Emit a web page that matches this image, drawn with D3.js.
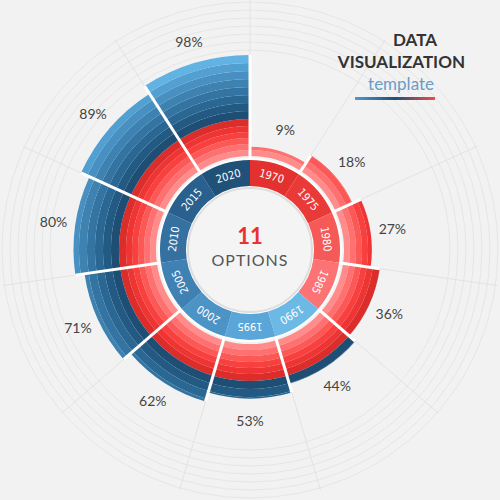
<!DOCTYPE html>
<html><head><meta charset="utf-8">
<script src="https://cdn.jsdelivr.net/npm/d3@7"></script>
<style>body{margin:0;background:#f2f2f2}</style>
</head><body><div id="chart"></div>
<script>
const years = ["1970","1975","1980","1985","1990","1995","2000","2005","2010","2015","2020"];
const values = [9, 18, 27, 36, 44, 53, 62, 71, 80, 89, 98];
const yearColors = ["#e3312f","#ea3a38","#f65a58","#fd7272","#6cb9e6","#5ba6d8","#4c93c6","#3f81b3","#3470a0","#29608d","#1f5179"];
const redBands = ["#ff8b8b","#ff7070","#fb5856","#f8403e","#ee3533","#dd2d2b"];
const blueBands = ["#1e4e74","#235a84","#2b6793","#3474a2","#3d82b1","#4790c1","#529fd1","#62b2e3"];

const width = 500, height = 500, cx = 250, cy = 250;
const svg = d3.select("#chart").append("svg").attr("width", width).attr("height", height);
svg.append("rect").attr("width", width).attr("height", height).attr("fill", "#f2f2f2");
const g = svg.append("g").attr("transform", `translate(${cx},${cy})`);

const ang = d3.scaleBand().domain(years).range([0, 2 * Math.PI]);
const r = d3.scaleLinear().domain([0, 98]).range([94, 195]);
const arc = d3.arc();

// faint grid
d3.range(200, 250, 8).forEach(rr => g.append("circle").attr("r", rr).attr("fill", "none").attr("stroke", "#e6e6e6"));
years.forEach(y => {
  const a = ang(y) - Math.PI / 2;
  g.append("line").attr("x1", 0).attr("y1", 0).attr("x2", 250 * Math.cos(a)).attr("y2", 250 * Math.sin(a)).attr("stroke", "#e3e3e3");
});

// bars built from concentric colour bands
const bandEdges = [94, 100, 106, 112, 118, 124, 131, 139, 147, 155, 163, 171, 179, 187, 196];
const bandColors = redBands.concat(blueBands);
years.forEach((y, i) => {
  const a0 = ang(y), a1 = a0 + ang.bandwidth(), outer = r(values[i]);
  bandColors.forEach((c, k) => {
    const ri = bandEdges[k], ro = Math.min(bandEdges[k + 1], outer);
    if (ro <= ri) return;
    g.append("path").attr("d", arc({innerRadius: ri, outerRadius: ro, startAngle: a0, endAngle: a1})).attr("fill", c);
  });
  const lr = outer + 22, am = a0 + ang.bandwidth() / 2 - Math.PI / 2;
  g.append("text").attr("x", lr * Math.cos(am)).attr("y", lr * Math.sin(am)).attr("dy", "0.35em")
    .attr("text-anchor", "middle").attr("font-family", "Lato").attr("font-size", 14).attr("fill", "#444").text(values[i] + "%");
});
// white separators, as long as the longer neighbouring bar
years.forEach((y, i) => {
  const a = ang(y) - Math.PI / 2;
  const len = Math.max(r(values[i]), r(values[(i + years.length - 1) % years.length]));
  g.append("line").attr("x1", 90 * Math.cos(a)).attr("y1", 90 * Math.sin(a)).attr("x2", len * Math.cos(a)).attr("y2", len * Math.sin(a)).attr("stroke", "#fff").attr("stroke-width", 3);
});
g.append("circle").attr("r", 92).attr("fill", "#fff");

// year ring
years.forEach((y, i) => {
  const a0 = ang(y), a1 = a0 + ang.bandwidth();
  g.append("path").attr("d", arc({innerRadius: 64, outerRadius: 90, startAngle: a0, endAngle: a1})).attr("fill", yearColors[i]);
  const deg = (a0 + a1) / 2 * 180 / Math.PI;
  g.append("text").attr("transform", `rotate(${deg}) translate(0,-77)`)
    .attr("text-anchor", "middle").attr("dy", "0.35em").attr("font-family", "DejaVu Sans Condensed").attr("font-size", 11)
    .attr("fill", "#fff").text(y);
});
g.append("circle").attr("r", 62).attr("fill", "#f4f4f4").attr("stroke", "#ddd").attr("stroke-width", 2);

g.append("text").attr("y", -6).attr("text-anchor", "middle").attr("font-family", "Lato").attr("font-weight", "bold")
  .attr("font-size", 22).attr("fill", "#e8322f").text("11");
g.append("text").attr("y", 16).attr("text-anchor", "middle").attr("font-family", "Lato").attr("font-size", 16)
  .attr("letter-spacing", 1).attr("fill", "#555").text("OPTIONS");

// title
const t = svg.append("g").attr("font-family", "Lato").attr("text-anchor", "end");
t.append("text").attr("x", 437).attr("y", 46).attr("font-weight", "bold").attr("font-size", 17).attr("fill", "#333").text("DATA");
t.append("text").attr("x", 465).attr("y", 68).attr("font-weight", "bold").attr("font-size", 17).attr("fill", "#333").text("VISUALIZATION");
t.append("text").attr("x", 434).attr("y", 90).attr("font-size", 17).attr("fill", "#6a9cc4").text("template");
const grad = svg.append("defs").append("linearGradient").attr("id", "tg");
grad.append("stop").attr("offset", "0%").attr("stop-color", "#4d9ad0");
grad.append("stop").attr("offset", "50%").attr("stop-color", "#1f4f77");
grad.append("stop").attr("offset", "100%").attr("stop-color", "#f24a48");
svg.append("rect").attr("x", 355).attr("y", 97).attr("width", 80).attr("height", 3).attr("fill", "url(#tg)");
</script></body></html>
